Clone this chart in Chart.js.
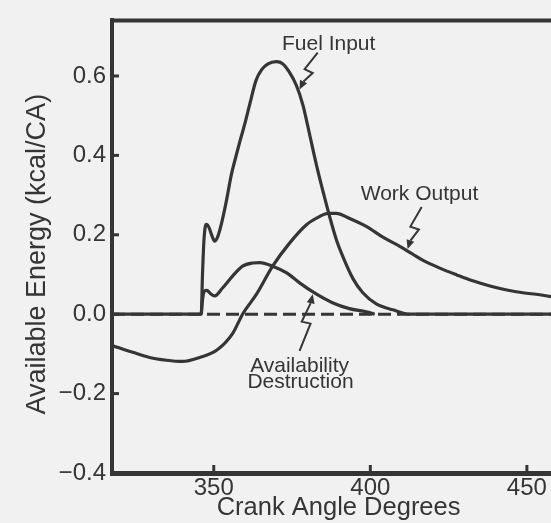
<!DOCTYPE html>
<html><head><meta charset="utf-8">
<script src="https://cdn.jsdelivr.net/npm/chart.js@4/dist/chart.umd.min.js"></script>
<style>
html,body{margin:0;padding:0;background:#f1f1f1;}
#wrap{width:551px;height:523px;position:relative;overflow:hidden;}
canvas{display:block;}
</style>
</head><body>
<div id="wrap"><canvas id="c" width="551" height="523"></canvas></div>
<script>
// ---- data ----
const xTicks = [350, 400, 450];
const yTicks = [-0.4, -0.2, 0, 0.2, 0.4, 0.6];
const xRange = [317.5, 457.7];
const yRange = [-0.4, 0.74];

const fuelX = [317.5, 346.0, 346.4, 346.9, 347.6, 348.5, 349.4, 350.3, 351.3, 352.4, 354.0, 355.6, 357.2, 358.3, 359.8, 361.4, 363.5, 365.3, 367.2, 370.0, 372.0, 374.2, 376.4, 378.5, 380.1, 381.7, 383.3, 384.9, 387.0, 389.1, 391.3, 394.5, 397.6, 401.9, 407.2, 412.6, 457.7];
const fuelY = [0, 0, 0.1, 0.19, 0.226, 0.218, 0.198, 0.184, 0.196, 0.226, 0.284, 0.351, 0.401, 0.434, 0.476, 0.526, 0.589, 0.616, 0.63, 0.636, 0.631, 0.609, 0.576, 0.526, 0.471, 0.414, 0.359, 0.309, 0.246, 0.189, 0.144, 0.089, 0.054, 0.026, 0.011, 0, 0];

const workX = [317.5, 324.1, 329.5, 334.9, 340.0, 345.5, 350.9, 356.0, 359.2, 363.7, 368.8, 374.2, 379.7, 383.8, 386.4, 389.1, 393.4, 398.7, 404.0, 409.4, 413.6, 416.7, 422.2, 427.6, 432.7, 438.2, 443.6, 448.7, 454.1, 457.7];
const workY = [-0.079, -0.096, -0.109, -0.116, -0.119, -0.109, -0.091, -0.049, 0, 0.051, 0.121, 0.179, 0.226, 0.246, 0.254, 0.254, 0.241, 0.221, 0.194, 0.171, 0.151, 0.136, 0.116, 0.099, 0.084, 0.071, 0.061, 0.054, 0.049, 0.044];

const destX = [346.0, 346.4, 347.0, 347.8, 348.9, 350.3, 352.8, 356.0, 359.2, 362.4, 364.7, 368.8, 373.3, 377.4, 382.7, 387.9, 393.3, 398.7, 401.4];
const destY = [0, 0.035, 0.058, 0.06, 0.052, 0.046, 0.066, 0.096, 0.121, 0.129, 0.13, 0.121, 0.104, 0.079, 0.051, 0.029, 0.014, 0.006, 0];

const zeroX = [317.5, 457.7];
const zeroY = [0, 0];

const labelTexts = ['Fuel Input', 'Work Output', 'Availability', 'Destruction'];
const labelX = [386.7, 415.7, 377.4, 377.7];
const labelY = [0.68, 0.3025, -0.13, -0.1725];

const arrowFromX = [383.2, 416.4, 377.4];
const arrowFromY = [0.659, 0.27, -0.0925];
const arrowToX = [377.4, 411.9, 381.6];
const arrowToY = [0.566, 0.164, 0.05];

// ---- chart ----
const INK = '#353535';
const FONT = '"Liberation Sans", Arial, Helvetica, sans-serif';
Chart.defaults.font.family = FONT;
Chart.defaults.color = INK;

const pts = (xs, ys) => xs.map((x, i) => ({x, y: ys[i]}));
const fmt = v => { const s = Number(v).toFixed(1); return v < 0 ? '\u2212' + s.slice(1) : s; };

const deco = {
  id: 'deco',
  afterDatasetsDraw(chart) {
    const {ctx, chartArea: a, scales: {x, y}} = chart;
    ctx.save();
    ctx.strokeStyle = INK; ctx.fillStyle = INK;
    // top frame line
    ctx.lineWidth = 4;
    ctx.beginPath(); ctx.moveTo(a.left - 2, a.top); ctx.lineTo(a.right, a.top); ctx.stroke();
    // inward tick stubs
    ctx.lineWidth = 3;
    yTicks.forEach(v => { const p = y.getPixelForValue(v); ctx.beginPath(); ctx.moveTo(a.left, p); ctx.lineTo(a.left + 7, p); ctx.stroke(); });
    xTicks.forEach(v => { const p = x.getPixelForValue(v); ctx.beginPath(); ctx.moveTo(p, a.bottom); ctx.lineTo(p, a.bottom - 8); ctx.stroke(); });
    // annotation texts
    ctx.textAlign = 'center'; ctx.textBaseline = 'middle';
    ctx.font = '21px ' + FONT;
    labelTexts.forEach((t, i) => ctx.fillText(t, x.getPixelForValue(labelX[i]), y.getPixelForValue(labelY[i])));
    // lightning arrows
    ctx.lineWidth = 2; ctx.lineJoin = 'miter';
    arrowFromX.forEach((fx, i) => {
      const sx = x.getPixelForValue(fx), sy = y.getPixelForValue(arrowFromY[i]);
      const ex = x.getPixelForValue(arrowToX[i]), ey = y.getPixelForValue(arrowToY[i]);
      const dx = ex - sx, dy = ey - sy, L = Math.hypot(dx, dy), ux = dx / L, uy = dy / L;
      const nx = -uy, ny = ux;
      const m1x = sx + dx * 0.5 + nx * 4.5, m1y = sy + dy * 0.5 + ny * 4.5;
      const m2x = sx + dx * 0.5 - nx * 4.5, m2y = sy + dy * 0.5 - ny * 4.5;
      const hx = ex - ux * 9, hy = ey - uy * 9;
      ctx.beginPath(); ctx.moveTo(sx, sy); ctx.lineTo(m1x, m1y); ctx.lineTo(m2x, m2y); ctx.lineTo(hx, hy); ctx.stroke();
      ctx.beginPath(); ctx.moveTo(ex, ey); ctx.lineTo(hx + nx * 4, hy + ny * 4); ctx.lineTo(hx - nx * 4, hy - ny * 4); ctx.closePath(); ctx.fill();
    });
    ctx.restore();
  }
};

const lineDs = (data, extra) => Object.assign({
  data, borderColor: INK, borderWidth: 3.2, pointRadius: 0, fill: false,
  cubicInterpolationMode: 'monotone'
}, extra || {});

new Chart(document.getElementById('c'), {
  type: 'line',
  data: {
    datasets: [
      lineDs(pts(zeroX, zeroY), {label: 'Zero', borderDash: [13, 6], borderWidth: 3, cubicInterpolationMode: 'default', tension: 0}),
      lineDs(pts(destX, destY), {label: 'Availability Destruction'}),
      lineDs(pts(workX, workY), {label: 'Work Output'}),
      lineDs(pts(fuelX, fuelY), {label: 'Fuel Input'})
    ]
  },
  options: {
    responsive: false, animation: false, devicePixelRatio: 1,
    layout: {padding: {top: 17, right: 0, bottom: 0, left: 0}},
    plugins: {legend: {display: false}, tooltip: {enabled: false}},
    scales: {
      x: {
        type: 'linear', min: xRange[0], max: xRange[1],
        grid: {display: false, drawTicks: false},
        border: {display: true, width: 5, color: INK},
        afterBuildTicks: s => { s.ticks = xTicks.map(v => ({value: v})); },
        afterFit: s => { s.height = 50; },
        ticks: {font: {size: 24}, color: INK, padding: 1, maxRotation: 0, callback: v => String(v)},
        title: {display: true, text: '  Crank Angle Degrees', font: {size: 25.5}, color: INK, padding: {top: 0, bottom: 0}}
      },
      y: {
        type: 'linear', min: yRange[0], max: yRange[1],
        grid: {display: false, drawTicks: false},
        border: {display: true, width: 4, color: INK},
        afterBuildTicks: s => { s.ticks = yTicks.map(v => ({value: v})); },
        afterFit: s => { s.width = 112; },
        ticks: {font: {size: 24}, color: INK, padding: 6, callback: v => fmt(v)},
        title: {display: true, text: 'Available Energy (kcal/CA)  ', font: {size: 27}, color: INK, padding: {top: 21, bottom: 0}}
      }
    }
  },
  plugins: [deco]
});
</script>
</body></html>
